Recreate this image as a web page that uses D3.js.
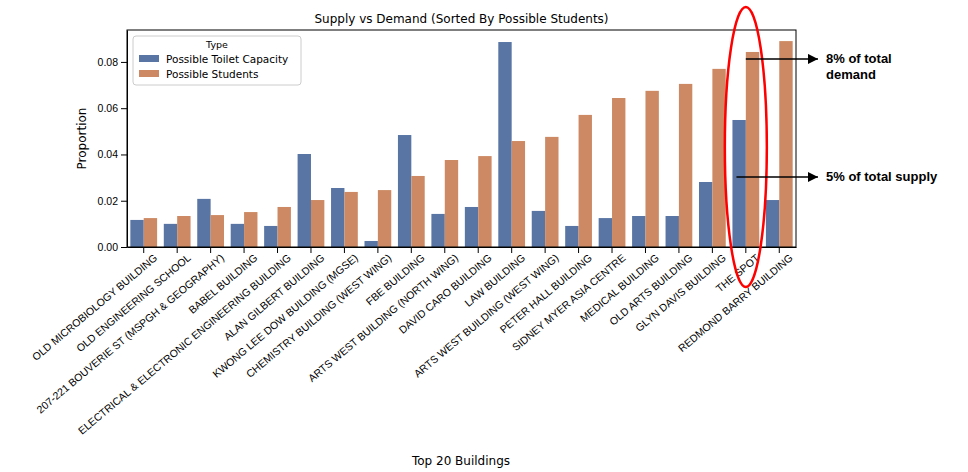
<!DOCTYPE html>
<html><head><meta charset="utf-8">
<script src="https://cdn.jsdelivr.net/npm/d3@7"></script>
<style>body{margin:0;background:#fff;font-family:"DejaVu Sans",sans-serif;}</style>
</head><body>
<svg id="chart" width="968" height="472"></svg>
<script>
// data
var buildings = ["OLD MICROBIOLOGY BUILDING","OLD ENGINEERING SCHOOL","207-221 BOUVERIE ST (MSPGH & GEOGRAPHY)","BABEL BUILDING","ELECTRICAL & ELECTRONIC ENGINEERING BUILDING","ALAN GILBERT BUILDING","KWONG LEE DOW BUILDING (MGSE)","CHEMISTRY BUILDING (WEST WING)","FBE BUILDING","ARTS WEST BUILDING (NORTH WING)","DAVID CARO BUILDING","LAW BUILDING","ARTS WEST BUILDING (WEST WING)","PETER HALL BUILDING","SIDNEY MYER ASIA CENTRE","MEDICAL BUILDING","OLD ARTS BUILDING","GLYN DAVIS BUILDING","THE SPOT","REDMOND BARRY BUILDING"];
var toilet = [0.0117,0.0100,0.0208,0.0100,0.0091,0.0402,0.0255,0.0026,0.0484,0.0143,0.0173,0.0886,0.0156,0.0091,0.0125,0.0134,0.0134,0.0281,0.0549,0.0203];
var students = [0.0125,0.0134,0.0138,0.0151,0.0173,0.0203,0.0238,0.0246,0.0307,0.0376,0.0393,0.0458,0.0476,0.0571,0.0644,0.0675,0.0705,0.0770,0.0843,0.0890];
var seriesNames = ["Possible Toilet Capacity","Possible Students"];
var colors = ["#5875a4","#cc8963"];
var yTicks = [0, 0.02, 0.04, 0.06, 0.08];

(function() {
var svg = d3.select("#chart");
var pLeft = 127, pRight = 796, pTop = 30, pBottom = 247;

var x = d3.scaleBand().domain(buildings).range([pLeft, pRight]).paddingInner(0.2).paddingOuter(0.1);
var xs = d3.scaleBand().domain([0,1]).range([0, x.bandwidth()]);
var y = d3.scaleLinear().domain([0, 0.0938]).range([pBottom, pTop]);

svg.append("text").attr("x", (pLeft+pRight)/2).attr("y", 23).attr("text-anchor","middle")
  .attr("font-size", 12).text("Supply vs Demand (Sorted By Possible Students)");

[toilet, students].forEach(function(vals, si) {
  svg.append("g").selectAll("rect").data(vals).enter().append("rect")
    .attr("x", function(d,i){ return x(buildings[i]) + xs(si); })
    .attr("width", xs.bandwidth())
    .attr("y", function(d){ return y(d); })
    .attr("height", function(d){ return pBottom - y(d); })
    .attr("fill", colors[si]);
});

var ya = svg.append("g").attr("transform","translate("+pLeft+",0)")
  .call(d3.axisLeft(y).tickValues(yTicks).tickFormat(d3.format(".2f")).tickSizeOuter(0));
ya.selectAll("text").attr("font-size", 10.5).attr("fill","#000");

var xa = svg.append("g").attr("transform","translate(0,"+pBottom+")")
  .call(d3.axisBottom(x).tickSizeOuter(0));
xa.selectAll("text").attr("font-size", 10.5).attr("fill","#000")
  .attr("text-anchor","end").attr("dx","0.3em").attr("dy","0.9em")
  .attr("transform","rotate(-40)");

svg.append("rect").attr("x", pLeft).attr("y", pTop).attr("width", pRight-pLeft).attr("height", pBottom-pTop)
  .attr("fill","none").attr("stroke","#000").attr("stroke-width",1);

svg.append("text").attr("x", 86).attr("y", (pTop+pBottom)/2).attr("text-anchor","middle")
  .attr("font-size", 12).attr("transform","rotate(-90,86,"+((pTop+pBottom)/2)+")").text("Proportion");
svg.append("text").attr("x", 461).attr("y", 465).attr("text-anchor","middle")
  .attr("font-size", 12).text("Top 20 Buildings");

// legend
var lg = svg.append("g").attr("transform","translate(133,36)");
lg.append("rect").attr("width", 168).attr("height", 49).attr("rx", 3)
  .attr("fill","#fff").attr("fill-opacity",0.8).attr("stroke","#ccc");
lg.append("text").attr("x", 84).attr("y", 12).attr("text-anchor","middle").attr("font-size", 9.5).text("Type");
seriesNames.forEach(function(n, i) {
  lg.append("rect").attr("x", 6).attr("y", 19 + i*15).attr("width", 20).attr("height", 7).attr("fill", colors[i]);
  lg.append("text").attr("x", 33).attr("y", 27 + i*15).attr("font-size", 10.5).text(n);
});

// annotations
var spotX = x("THE SPOT") + x.bandwidth()/2;
svg.append("ellipse").attr("cx", spotX).attr("cy", 147).attr("rx", 21).attr("ry", 140)
  .attr("fill","none").attr("stroke","#f00").attr("stroke-width", 2.5);
svg.append("defs").append("marker").attr("id","ah").attr("viewBox","0 0 10 10")
  .attr("refX", 10).attr("refY", 5).attr("markerWidth", 7).attr("markerHeight", 7)
  .attr("orient","auto").append("path").attr("d","M0,0L10,5L0,10z").attr("fill","#000");
[[spotX, y(0.0813), ["8% of total","demand"]], [x("THE SPOT")+4, 177, ["5% of total supply"]]].forEach(function(a) {
  svg.append("line").attr("x1", a[0]).attr("y1", a[1]).attr("x2", 818).attr("y2", a[1])
    .attr("stroke","#000").attr("stroke-width", 1.5).attr("marker-end","url(#ah)");
  a[2].forEach(function(t, i) {
    svg.append("text").attr("x", 826).attr("y", a[1] + 4 + i*16).attr("font-size", 13)
      .attr("font-weight","bold").attr("font-family","Liberation Sans, Arial").text(t);
  });
});
})();
</script>
</body></html>
